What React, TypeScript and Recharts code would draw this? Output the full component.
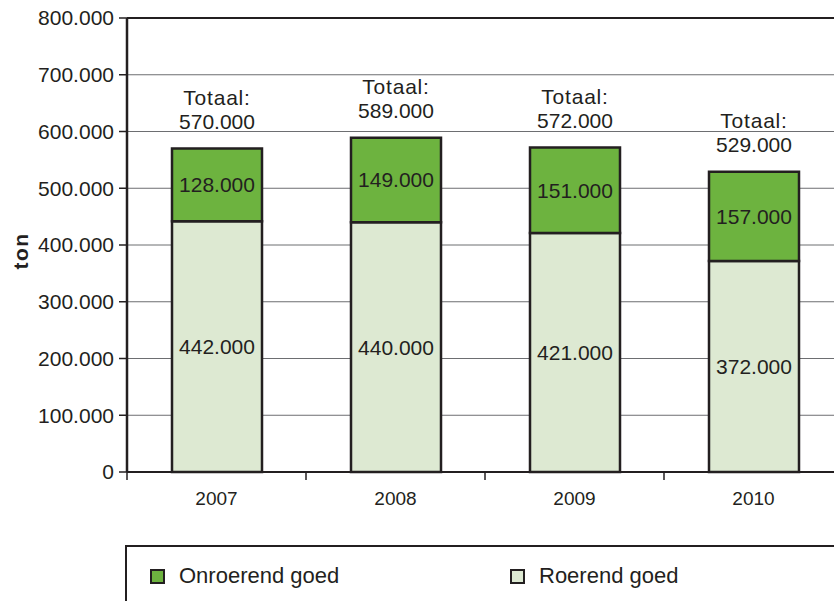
import { BarChart, Bar, XAxis, YAxis, CartesianGrid, LabelList, ReferenceLine } from 'recharts';

const years = ['2007', '2008', '2009', '2010'];
const roerend = [442000, 440000, 421000, 372000];
const onroerend = [128000, 149000, 151000, 157000];
const totaal = [570000, 589000, 572000, 529000];
const yTicks = [0, 100000, 200000, 300000, 400000, 500000, 600000, 700000, 800000];

const legendItems = [
  { name: 'Onroerend goed', color: '#6db33f' },
  { name: 'Roerend goed', color: '#dde9d2' },
];

const data = years.map((year, i) => ({
  year,
  roerend: roerend[i],
  onroerend: onroerend[i],
  totaal: totaal[i],
}));

const INK = '#231f20';
const FONT = '"Liberation Sans", Arial, sans-serif';
const CHART_W = 850;
const PLOT_LEFT = 127;
const PLOT_RIGHT = 843;
const HALF_BAND = (PLOT_RIGHT - PLOT_LEFT) / years.length / 2;

const fmt = (v: number) => String(v).replace(/\B(?=(\d{3})+(?!\d))/g, '.');

const YearTick = (props: any) => {
  const { x, y, payload, index } = props;
  const axisY = y - 20;
  return (
    <g>
      <line x1={x - HALF_BAND} x2={x - HALF_BAND} y1={axisY} y2={axisY + 8} stroke={INK} strokeWidth={1.5} />
      {index === years.length - 1 && (
        <line x1={x + HALF_BAND} x2={x + HALF_BAND} y1={axisY} y2={axisY + 8} stroke={INK} strokeWidth={1.5} />
      )}
      <text x={x} y={y} dy="0.71em" textAnchor="middle" fill={INK} fontSize={19} fontFamily={FONT}>
        {payload.value}
      </text>
    </g>
  );
};

const TotalLabel = (props: any) => {
  const { x, y, width, index } = props;
  const cx = x + width / 2;
  return (
    <g fontFamily={FONT} fontSize={21} fill={INK} textAnchor="middle">
      <text x={cx} y={y - 51} dominantBaseline="central" letterSpacing={0.8}>Totaal:</text>
      <text x={cx} y={y - 27} dominantBaseline="central">{fmt(totaal[index])}</text>
    </g>
  );
};

export default function App() {
  return (
    <div style={{ position: 'fixed', left: 0, top: 0, width: 834, height: 601, overflow: 'hidden', background: '#fff', fontFamily: FONT }}>
      <BarChart
        width={CHART_W}
        height={640}
        data={data}
        margin={{ top: 18, right: CHART_W - PLOT_RIGHT, left: 0, bottom: 108 }}
        barSize={90}
      >
        <CartesianGrid vertical={false} stroke="#6d6e71" strokeWidth={1} />
        <XAxis
          dataKey="year"
          height={60}
          axisLine={{ stroke: INK, strokeWidth: 2 }}
          tickLine={false}
          tickSize={8}
          tickMargin={12}
          tick={<YearTick />}
          interval={0}
        />
        <YAxis
          width={PLOT_LEFT}
          domain={[0, 800000]}
          ticks={yTicks}
          tickFormatter={fmt}
          tick={{ fill: INK, fontSize: 21, fontFamily: FONT }}
          tickSize={8}
          tickMargin={5}
          axisLine={{ stroke: INK, strokeWidth: 2.5 }}
          tickLine={{ stroke: INK, strokeWidth: 1.5 }}
          label={{
            value: 'ton',
            content: (p: any) => (
              <text
                x={p.viewBox.x + 20}
                y={p.viewBox.y + p.viewBox.height / 2 + 6}
                transform={`rotate(-90, ${p.viewBox.x + 20}, ${p.viewBox.y + p.viewBox.height / 2 + 6})`}
                textAnchor="middle"
                dominantBaseline="central"
                fontWeight="bold"
                fontSize={21}
                letterSpacing={1.5}
                fontFamily={FONT}
                fill={INK}
              >
                ton
              </text>
            ),
          }}
        />
        <ReferenceLine y={800000} stroke={INK} strokeWidth={2} />
        <Bar dataKey="roerend" stackId="a" fill="#dde9d2" stroke={INK} strokeWidth={2.5} isAnimationActive={false}>
          <LabelList dataKey="roerend" position="center" formatter={(v: any) => fmt(Number(v))} fill={INK} fontSize={21} fontFamily={FONT} />
        </Bar>
        <Bar dataKey="onroerend" stackId="a" fill="#6db33f" stroke={INK} strokeWidth={2.5} isAnimationActive={false}>
          <LabelList dataKey="onroerend" position="center" formatter={(v: any) => fmt(Number(v))} fill={INK} fontSize={21} fontFamily={FONT} />
          <LabelList dataKey="totaal" content={<TotalLabel />} />
        </Bar>
      </BarChart>
      <div
        style={{
          position: 'absolute',
          left: PLOT_LEFT - 2,
          top: 545,
          width: 760,
          height: 100,
          borderLeft: `2px solid ${INK}`,
          borderTop: `2px solid ${INK}`,
        }}
      >
        {legendItems.map((item, i) => (
          <div
            key={item.name}
            style={{ position: 'absolute', left: 23 + i * 360, top: 16, display: 'flex', alignItems: 'center', fontSize: 22, color: INK }}
          >
            <span style={{ display: 'inline-block', width: 11, height: 11, background: item.color, border: `2px solid ${INK}`, marginRight: 14 }} />
            {item.name}
          </div>
        ))}
      </div>
    </div>
  );
}
